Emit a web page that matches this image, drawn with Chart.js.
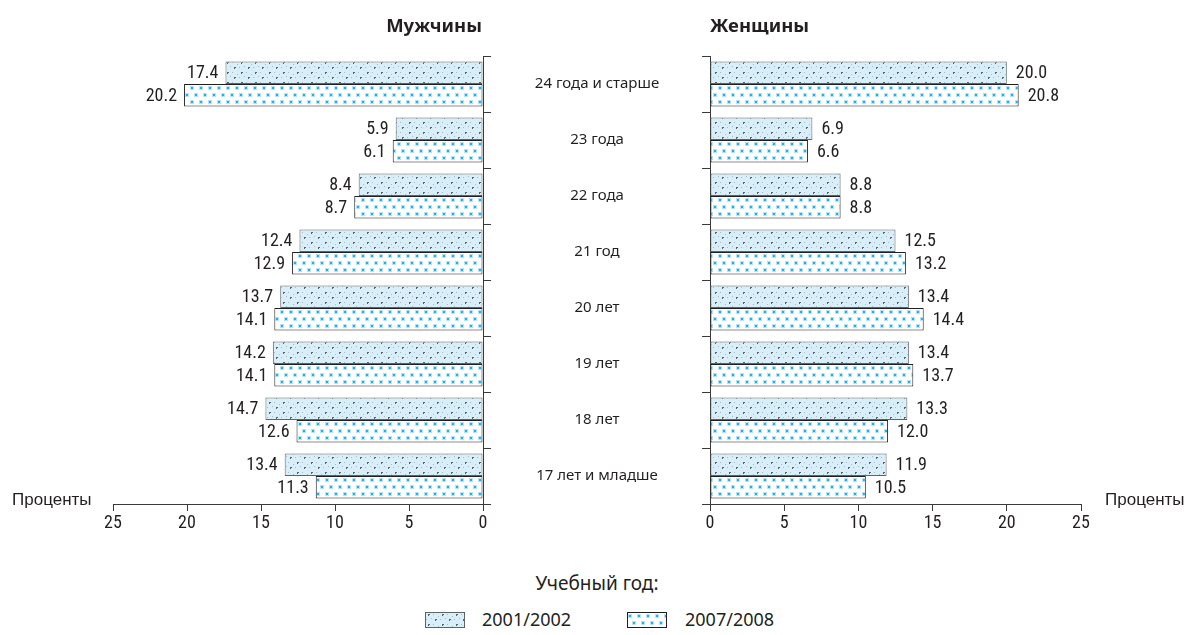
<!DOCTYPE html>
<html><head><meta charset="utf-8">
<script src="https://cdn.jsdelivr.net/npm/chart.js@4/dist/chart.umd.min.js"></script>
<style>
html,body{margin:0;padding:0;background:#fff;width:1188px;height:635px;overflow:hidden;}
#wrap{position:relative;width:1188px;height:635px;}
canvas{position:absolute;top:0;}
#cl{left:0;}
#cr{left:600px;}
.t{position:absolute;white-space:nowrap;color:#231f20;}
.title{font-family:'Noto Sans',sans-serif;font-weight:700;font-size:18.5px;top:12px;}
.pct{font-family:'Liberation Sans Narrow','Arial Narrow',sans-serif;font-size:17px;top:490px;color:#231f20;}
.leg{font-family:'Noto Sans',sans-serif;font-size:18px;color:#231f20;}
.sw{position:absolute;}
</style></head>
<body><div id="wrap">
<canvas id="cr" width="588" height="560"></canvas>
<canvas id="cl" width="700" height="560"></canvas>
<div class="t title" style="right:706px;">Мужчины</div>
<div class="t title" style="left:710px;">Женщины</div>
<div class="t pct" style="left:12px;">Проценты</div>
<div class="t pct" style="left:1105px;">Проценты</div>
<div class="t leg" style="left:0;width:1194px;text-align:center;top:570px;font-size:19px;">Учебный год:</div>
<canvas class="sw" id="sw1" width="40" height="16" style="left:425px;top:612px;"></canvas>
<canvas class="sw" id="sw2" width="40" height="16" style="left:627px;top:612px;"></canvas>
<div class="t leg" id="lg1" style="left:482px;top:607px;"></div>
<div class="t leg" id="lg2" style="left:685px;top:607px;"></div>
</div>
<script>
const categories = ['24 года и старше','23 года','22 года','21 год','20 лет','19 лет','18 лет','17 лет и младше'];
const seriesNames = ['2001/2002','2007/2008'];
const men2001 = [17.4, 5.9, 8.4, 12.4, 13.7, 14.2, 14.7, 13.4];
const men2008 = [20.2, 6.1, 8.7, 12.9, 14.1, 14.1, 12.6, 11.3];
const women2001 = [20.0, 6.9, 8.8, 12.5, 13.4, 13.4, 13.3, 11.9];
const women2008 = [20.8, 6.6, 8.8, 13.2, 14.4, 13.7, 12.0, 10.5];
const xTicks = [0, 5, 10, 15, 20, 25];

const numFont = "'Liberation Sans Narrow','Arial Narrow','Roboto Condensed',sans-serif";
const catFont = "'Noto Sans',sans-serif";

function pattern1(ctx){
  const c=document.createElement('canvas'); c.width=14; c.height=10;
  const g=c.getContext('2d');
  g.fillStyle='#d8effa'; g.fillRect(0,0,14,10);
  g.fillStyle='#5a6368'; g.fillRect(3,2,2,1); g.fillRect(3,3,1,1); g.fillRect(10,7,2,1); g.fillRect(10,8,1,1);
  g.fillStyle='#a9bcc5'; g.fillRect(8,2,1,1); g.fillRect(1,7,1,1); g.fillRect(6,6,1,1); g.fillRect(13,4,1,1);
  return ctx.createPattern(c,'repeat');
}
function pattern2(ctx){
  const c=document.createElement('canvas'); c.width=9; c.height=14;
  const g=c.getContext('2d');
  g.fillStyle='#ffffff'; g.fillRect(0,0,9,14);
  const dot=(x,y)=>{g.fillStyle='#b2e3f6'; g.fillRect(x-1,y-1,4,4); g.fillStyle='#22aee6'; g.fillRect(x,y,2,2);};
  dot(2,3); dot(6,10);
  return ctx.createPattern(c,'repeat');
}

function valueLabels(side){
  return {
    id:'vl'+side,
    afterDatasetsDraw(chart){
      const ctx=chart.ctx; ctx.save();
      ctx.font='18px '+numFont; ctx.fillStyle='#231f20'; ctx.textBaseline='middle';
      ctx.textAlign = side==='left' ? 'right' : 'left';
      chart.data.datasets.forEach((ds,di)=>{
        chart.getDatasetMeta(di).data.forEach((el,i)=>{
          const x = el.x + (side==='left' ? -7 : 9);
          ctx.fillText(ds.data[i].toFixed(1), x, el.y+1);
        });
      });
      ctx.restore();
    }
  };
}

Chart.defaults.color='#231f20';

const clCtx=document.getElementById('cl').getContext('2d');
const crCtx=document.getElementById('cr').getContext('2d');
const p1l=pattern1(clCtx), p2l=pattern2(clCtx), p1r=pattern1(crCtx), p2r=pattern2(crCtx);

clCtx.font='15px '+catFont;
const widest=Math.max(...categories.map(s=>clCtx.measureText(s).width));
const catPad = 597-483-8-widest/2;

function xScale(reverse){
  return {
    type:'linear', reverse, min:0, max:25,
    afterBuildTicks:s=>{ s.ticks = xTicks.map(v=>({value:v})); },
    ticks:{padding:2,color:'#231f20',font:{family:numFont,size:18}},
    grid:{drawOnChartArea:false,drawTicks:true,tickLength:7,color:'#3a3a3a'},
    border:{color:'#3a3a3a'},
    afterFit:s=>{ s.height=56; }
  };
}
function ds(data,bg,border,label){
  return {label,data,backgroundColor:bg,borderColor:border,borderWidth:1,borderSkipped:false,categoryPercentage:0.8,barPercentage:1};
}

new Chart(clCtx,{
  type:'bar',
  data:{labels:categories,datasets:[ds(men2001,p1l,'#5e6366',seriesNames[0]),ds(men2008,p2l,'#231f20',seriesNames[1])]},
  options:{
    indexAxis:'y',responsive:false,animation:false,
    layout:{padding:{top:56,left:113,right:0,bottom:0}},
    plugins:{legend:{display:false},tooltip:{enabled:false}},
    scales:{
      x:xScale(true),
      y:{position:'right',
         ticks:{crossAlign:'center',padding:catPad,color:'#231f20',font:{family:catFont,size:15}},
         grid:{drawOnChartArea:false,tickLength:8,color:'#3a3a3a',offset:true},
         border:{color:'#3a3a3a'},
         afterFit:s=>{ s.width=217; }}
    }
  },
  plugins:[valueLabels('left')]
});

new Chart(crCtx,{
  type:'bar',
  data:{labels:categories,datasets:[ds(women2001,p1r,'#5e6366',seriesNames[0]),ds(women2008,p2r,'#231f20',seriesNames[1])]},
  options:{
    indexAxis:'y',responsive:false,animation:false,
    layout:{padding:{top:56,left:0,right:107,bottom:0}},
    plugins:{legend:{display:false},tooltip:{enabled:false}},
    scales:{
      x:xScale(false),
      y:{position:'left',
         ticks:{display:false},
         grid:{drawOnChartArea:false,tickLength:8,color:'#3a3a3a',offset:true},
         border:{color:'#3a3a3a'},
         afterFit:s=>{ s.width=110; }}
    }
  },
  plugins:[valueLabels('right')]
});

[['sw1',pattern1,'#5e6366'],['sw2',pattern2,'#231f20']].forEach(([id,pf,bc])=>{
  const g=document.getElementById(id).getContext('2d');
  g.fillStyle=pf(g); g.fillRect(0,0,40,16);
  g.strokeStyle=bc; g.lineWidth=1; g.strokeRect(0.5,0.5,39,15);
});
document.getElementById('lg1').textContent=seriesNames[0];
document.getElementById('lg2').textContent=seriesNames[1];
</script>
</body></html>
